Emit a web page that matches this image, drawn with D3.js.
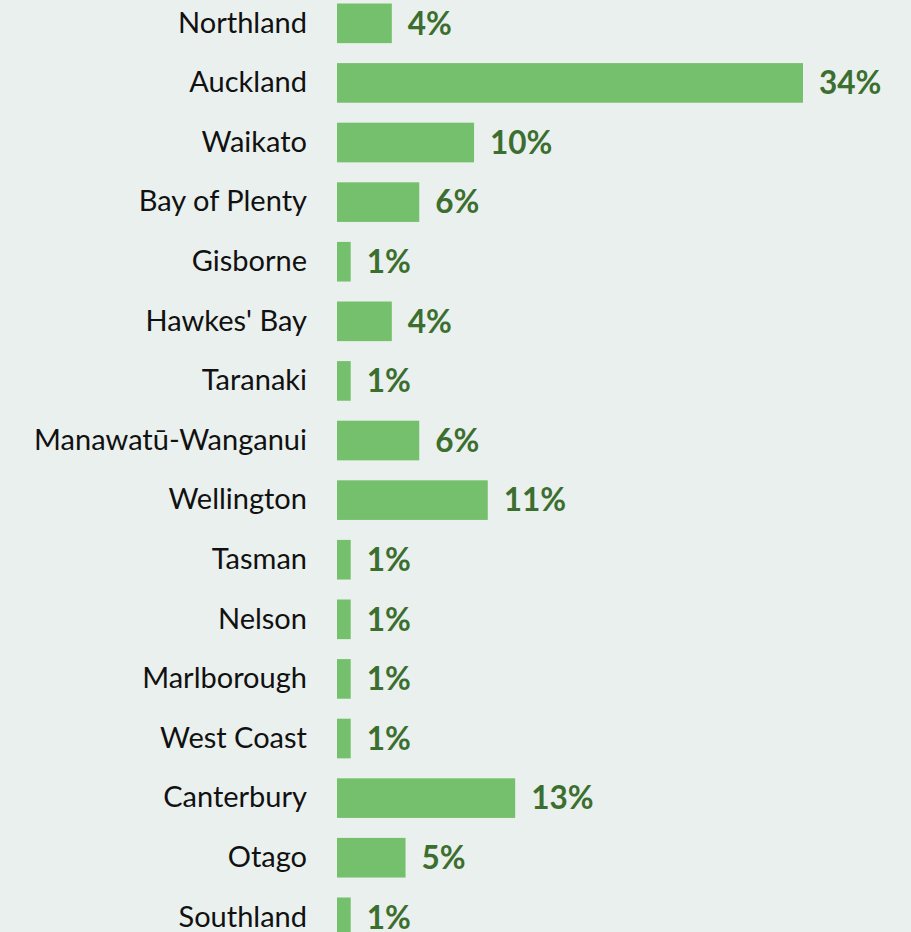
<!DOCTYPE html>
<html>
<head>
<meta charset="utf-8">
<script src="https://cdn.jsdelivr.net/npm/d3@7"></script>
<style>
  html, body { margin: 0; padding: 0; background: #eaf0ed; }
  svg { display: block; }
</style>
</head>
<body>
<div id="chart"></div>
<script>
// Share of total by region (%)
const regions = [
  "Northland", "Auckland", "Waikato", "Bay of Plenty", "Gisborne",
  "Hawkes' Bay", "Taranaki", "Manawatū-Wanganui", "Wellington", "Tasman",
  "Nelson", "Marlborough", "West Coast", "Canterbury", "Otago", "Southland"
];
const shares = [4, 34, 10, 6, 1, 4, 1, 6, 11, 1, 1, 1, 1, 13, 5, 1];

const width = 911, height = 932;
const margin = { top: 3.5, left: 337 };
const step = 59.6;

const svg = d3.select("#chart").append("svg")
  .attr("width", width).attr("height", height);

svg.append("rect").attr("width", width).attr("height", height).attr("fill", "#eaf0ed");

const x = d3.scaleLinear().domain([0, 34]).range([0, 466]);
const y = d3.scaleBand()
  .domain(regions)
  .range([margin.top - step * 0.335 / 2, margin.top - step * 0.335 / 2 + step * regions.length])
  .paddingInner(0.335)
  .paddingOuter(0.1675);

const g = svg.append("g").attr("transform", `translate(${margin.left},0)`);

g.selectAll("rect.bar")
  .data(regions)
  .join("rect")
  .attr("class", "bar")
  .attr("x", 0)
  .attr("y", d => y(d))
  .attr("width", (d, i) => x(shares[i]))
  .attr("height", y.bandwidth())
  .attr("fill", "#75c06c");

// category axis on the left, no line or ticks
const axis = d3.axisLeft(y).tickSize(0).tickPadding(30);
const ax = g.append("g").call(axis);
ax.select(".domain").remove();
ax.selectAll("text")
  .attr("font-family", "Lato, 'Open Sans', sans-serif")
  .attr("font-size", 29)
  .attr("fill", "#111");

// value labels
g.selectAll("text.val")
  .data(regions)
  .join("text")
  .attr("class", "val")
  .attr("x", (d, i) => x(shares[i]) + 16)
  .attr("y", d => y(d) + y.bandwidth() / 2)
  .attr("dy", "0.36em")
  .attr("font-family", "Lato, 'Open Sans', sans-serif")
  .attr("font-weight", "bold")
  .attr("font-size", 31.5)
  .attr("fill", "#3b6e2f")
  .text((d, i) => shares[i] + "%");
</script>
</body>
</html>
